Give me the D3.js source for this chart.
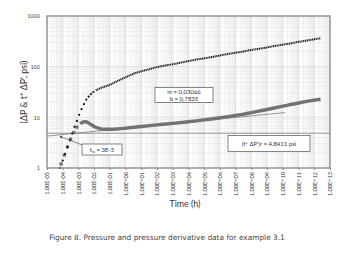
<!DOCTYPE html>
<html>
<head>
<meta charset="utf-8">
<script src="https://cdn.jsdelivr.net/npm/d3@7"></script>
<style>
  body { margin: 0; background: #fff; }
  svg text { font-family: "Lato", "DejaVu Sans", sans-serif; }
</style>
</head>
<body>
<div id="chart"></div>
<script>
// pressure data, time in hours
let timeDP = [6.8e-5, 1e-4, 1.41e-4, 2e-4, 2.82e-4, 3.98e-4, 5.62e-4, 7.94e-4, 1.12e-3, 1.58e-3, 2.24e-3, 3.16e-3,
    4.47e-3, 6.31e-3, 8.91e-3, 1.26e-2, 1.78e-2, 2.51e-2, 3.98e-2, 6.31e-2, 0.1, 0.178, 0.316, 0.562, 1, 3.16, 10, 31.6,
    100, 316, 1e3, 3.16e3, 1e4, 3.16e4, 1e5, 3.16e5, 1e6, 3.16e6, 1e7, 3.16e7, 1e8, 3.16e8, 1e9, 3.16e9, 1e10,
    3.16e10, 1e11, 3.16e11, 1e12, 2.5e12];
let deltaP = [1.0, 1.4, 1.9, 2.6, 3.5, 4.8, 6.5, 8.5, 11.2, 14.5, 18.2, 22.4,
    25.7, 28.8, 31.6, 33.9, 35.9, 37.6, 39.8, 41.7, 44, 47.9, 52.5, 56.9, 61.7, 72.4, 81, 89,
    98, 105, 112, 120, 129, 138, 146, 155, 166, 178, 188, 200, 214, 226, 240, 257, 272,
    288, 309, 327, 347, 363];

// pressure derivative t*dP'
let timeDer = [7.9e-5, 1.26e-4, 2e-4, 3.16e-4, 5e-4, 7.9e-4, 1.26e-3, 2e-3, 2.82e-3, 3.98e-3, 6.31e-3, 1e-2,
    1.78e-2, 3.16e-2, 5.62e-2, 0.1, 0.316, 1, 10, 100, 1e3, 1e4, 1e5, 1e6, 1e7, 1e8, 1e9, 1e10, 1e11, 1e12, 2.5e12];
let derivative = [1.2, 1.8, 2.6, 3.7, 5.0, 6.4, 7.5, 8.1, 8.2, 7.9, 7.2, 6.6,
    6.1, 5.85, 5.8, 5.8, 5.9, 6.1, 6.6, 7.1, 7.6, 8.2, 8.9, 9.8, 10.9, 12.4, 14.3, 16.6, 19.2, 21.8, 22.8];

// fitted line log(t*dP') = b + m*log(t)
let fitM = 0.03066;
let fitB = 0.7835;
let fitRange = [1e-5, 1.4e10];
let radialValue = 4.8411;

let xTicks = d3.range(-5, 14).map(p => Math.pow(10, p));
let yTicks = [1, 10, 100, 1000];

let margin = {top: 16, right: 17, bottom: 85, left: 47};
let W = 347, H = 253;
let width = W - margin.left - margin.right;
let height = H - margin.top - margin.bottom;

let svg = d3.select("#chart").append("svg")
    .attr("width", W)
    .attr("height", H);

let g = svg.append("g")
    .attr("transform", "translate(" + margin.left + "," + margin.top + ")");

let x = d3.scaleLog().domain([1e-5, 1e13]).range([0, width]);
let y = d3.scaleLog().domain([1, 1000]).range([height, 0]);

// minor grid
let minorX = [];
xTicks.slice(0, -1).forEach(t => { for (let k = 2; k <= 9; k++) minorX.push(t * k); });
let minorY = [];
yTicks.slice(0, -1).forEach(t => { for (let k = 2; k <= 9; k++) minorY.push(t * k); });

g.selectAll(".gx").data(minorX).enter().append("line")
    .attr("x1", d => x(d)).attr("x2", d => x(d))
    .attr("y1", 0).attr("y2", height)
    .attr("stroke", "#e4e4e4").attr("stroke-width", 0.6);
g.selectAll(".gy").data(minorY).enter().append("line")
    .attr("y1", d => y(d)).attr("y2", d => y(d))
    .attr("x1", 0).attr("x2", width)
    .attr("stroke", "#e4e4e4").attr("stroke-width", 0.6);
g.selectAll(".mx").data(xTicks).enter().append("line")
    .attr("x1", d => x(d)).attr("x2", d => x(d))
    .attr("y1", 0).attr("y2", height)
    .attr("stroke", "#d6d6d6").attr("stroke-width", 0.7);
g.selectAll(".my").data(yTicks).enter().append("line")
    .attr("y1", d => y(d)).attr("y2", d => y(d))
    .attr("x1", 0).attr("x2", width)
    .attr("stroke", "#d6d6d6").attr("stroke-width", 0.7);

// axes labels
let xAxis = g.append("g")
    .attr("transform", "translate(0," + height + ")")
    .call(d3.axisBottom(x).tickValues(xTicks).tickSize(2).tickFormat(d => {
        let p = Math.round(Math.log10(d));
        return "1.00E" + (p < 0 ? "-" : "+") + String(Math.abs(p)).padStart(2, "0");
    }));
xAxis.select(".domain").remove();
xAxis.selectAll(".tick line").attr("stroke", "#888");
xAxis.selectAll("text")
    .attr("transform", "rotate(-90)")
    .attr("x", -4).attr("y", 0).attr("dy", "0.32em")
    .style("text-anchor", "end")
    .style("font-size", "5.6px")
    .attr("fill", "#333");

let yAxis = g.append("g")
    .call(d3.axisLeft(y).tickValues(yTicks).tickSize(0).tickFormat(d3.format("d")));
yAxis.select(".domain").remove();
yAxis.selectAll("text")
    .attr("x", -7)
    .style("font-size", "5.5px")
    .attr("fill", "#444");

// horizontal radial flow line
g.append("line")
    .attr("x1", 0).attr("x2", width)
    .attr("y1", y(radialValue)).attr("y2", y(radialValue))
    .attr("stroke", "#888").attr("stroke-width", 0.8);

// fitted line
g.append("line")
    .attr("x1", x(fitRange[0])).attr("x2", x(fitRange[1]))
    .attr("y1", y(Math.pow(10, fitB + fitM * Math.log10(fitRange[0]))))
    .attr("y2", y(Math.pow(10, fitB + fitM * Math.log10(fitRange[1]))))
    .attr("stroke", "#777").attr("stroke-width", 0.8);

// derivative
let derData = timeDer.map((t, i) => ({t: t, v: derivative[i]}));
let line = d3.line().x(d => x(d.t)).y(d => y(d.v)).curve(d3.curveMonotoneX);
g.append("path")
    .datum(derData.filter(d => d.t >= 1.26e-3))
    .attr("d", line)
    .attr("fill", "none")
    .attr("stroke", "#727272")
    .attr("stroke-width", 3.4);
g.selectAll(".der").data(derData.filter(d => d.t < 1.26e-3)).enter().append("rect")
    .attr("x", d => x(d.t) - 1.6).attr("y", d => y(d.v) - 1.6)
    .attr("width", 3.2).attr("height", 3.2)
    .attr("fill", "#6e6e6e");

// pressure
let dpData = timeDP.map((t, i) => ({t: t, v: deltaP[i]}));
g.append("path")
    .datum(dpData.filter(d => d.t >= 1.26e-2))
    .attr("d", line)
    .attr("fill", "none")
    .attr("stroke", "#222")
    .attr("stroke-width", 2)
    .attr("stroke-dasharray", "1.2,0.6");
g.selectAll(".dp").data(dpData.filter(d => d.t < 1.26e-2)).enter().append("circle")
    .attr("cx", d => x(d.t)).attr("cy", d => y(d.v))
    .attr("r", 1.1)
    .attr("fill", "#111");

// plot frame
g.append("rect")
    .attr("width", width).attr("height", height)
    .attr("fill", "none")
    .attr("stroke", "#8a8a8a").attr("stroke-width", 1.3);

// annotation boxes
function box(cx, cy, w, h, lines) {
    g.append("rect")
        .attr("x", cx - w / 2).attr("y", cy - h / 2)
        .attr("width", w).attr("height", h)
        .attr("fill", "#fff").attr("stroke", "#555").attr("stroke-width", 0.7);
    let t = g.append("text")
        .attr("x", cx).attr("y", cy - (lines.length - 1) * 3.5)
        .attr("text-anchor", "middle")
        .style("font-size", "6px")
        .attr("fill", "#333");
    lines.forEach((l, i) => {
        t.append("tspan").attr("x", cx).attr("dy", i == 0 ? "0.35em" : "7px").text(l);
    });
    return t;
}

box(137, 79, 58, 15, ["m = 0,03066", "b = 0,7835"]);
box(222, 127.5, 82, 16, ["(t* \u0394P')r = 4,8411 psi"]);

// t_ix box and arrow
svg.append("defs").append("marker")
    .attr("id", "arr").attr("viewBox", "0 0 6 6")
    .attr("refX", 5).attr("refY", 3)
    .attr("markerWidth", 4).attr("markerHeight", 4)
    .attr("orient", "auto")
    .append("path").attr("d", "M0,0L6,3L0,6Z").attr("fill", "#444");
g.append("line")
    .attr("x1", x(1.7e-3)).attr("y1", y(2.85))
    .attr("x2", x(6.7e-5)).attr("y2", y(4.2))
    .attr("stroke", "#555").attr("stroke-width", 0.7)
    .attr("marker-end", "url(#arr)");
g.append("rect")
    .attr("x", 35).attr("y", 128).attr("width", 40).attr("height", 11)
    .attr("fill", "#fff").attr("stroke", "#555").attr("stroke-width", 0.7);
let tt = g.append("text")
    .attr("x", 55).attr("y", 133.5).attr("dy", "0.35em")
    .attr("text-anchor", "middle")
    .style("font-size", "6px")
    .attr("fill", "#333");
tt.append("tspan").text("t");
tt.append("tspan").style("font-size", "4px").attr("dy", "1px").text("ix");
tt.append("tspan").attr("dy", "-1px").text(" = 3E-5");

// axis titles
svg.append("text")
    .attr("transform", "translate(27,92) rotate(-90)")
    .attr("text-anchor", "middle")
    .style("font-size", "8.8px")
    .attr("fill", "#333")
    .text("(\u0394P & t* \u0394P', psi)");

svg.append("text")
    .attr("x", 185).attr("y", 207)
    .attr("text-anchor", "middle")
    .style("font-size", "8.8px")
    .attr("fill", "#333")
    .text("Time (h)");

svg.append("text")
    .attr("x", 167).attr("y", 240)
    .attr("text-anchor", "middle")
    .style("font-size", "7.4px")
    .style("font-family", "'DejaVu Sans', sans-serif")
    .attr("fill", "#444")
    .text("Figure 8. Pressure and pressure derivative data for example 3.1");
</script>
</body>
</html>
